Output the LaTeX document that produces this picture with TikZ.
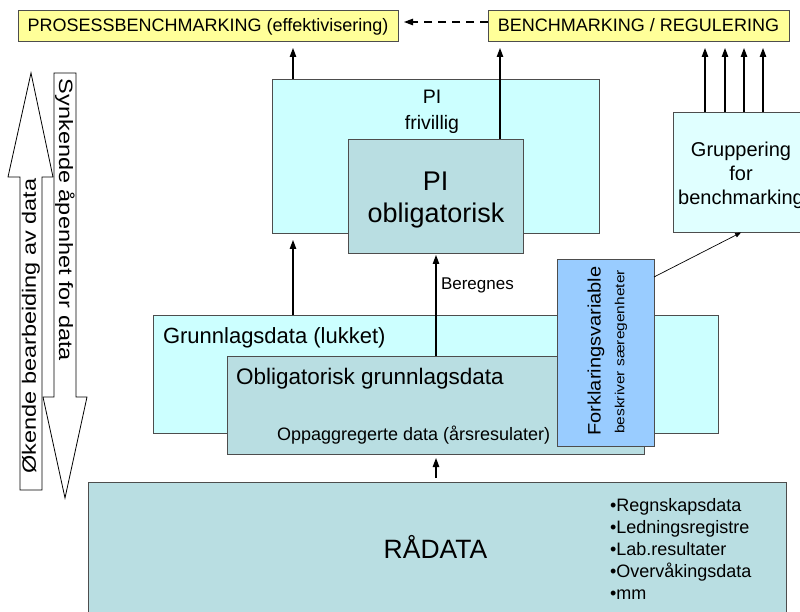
\documentclass[tikz,border=0pt]{standalone}
\usepackage{fontspec}
\setmainfont{Liberation Sans}
\usetikzlibrary{arrows.meta}
\definecolor{ylw}{HTML}{FFFF99}
\definecolor{cyanl}{HTML}{CCFFFF}
\definecolor{tealg}{HTML}{B9DEE2}
\definecolor{skyb}{HTML}{99CCFF}
\definecolor{palec}{HTML}{E0FFFF}
\definecolor{boxline}{HTML}{4D4D4D}
\newcommand\setfs[1]{\fontsize{#1}{#1}\selectfont}
\begin{document}
\begin{tikzpicture}[x=1pt,y=-1pt,
  box/.style={draw=boxline, line width=0.9pt, anchor=north west, inner sep=0pt, outer sep=0pt},
  txt/.style={inner sep=0pt, outer sep=0pt, anchor=base, text=black},
  ltxt/.style={txt, anchor=base west},
  vtxt/.style={inner sep=0pt, outer sep=0pt, anchor=center, text=black},
  arr/.style={line width=1.1pt, -{Triangle[length=9pt,width=6.5pt]}},
  thinarr/.style={line width=0.7pt, -{Triangle[length=6pt,width=4.5pt]}},
  bigarrow/.style={draw=black, line width=0.8pt, fill=white}]
\useasboundingbox (0,0) rectangle (800,612);
\clip (0,0) rectangle (800,612);
\fill[white] (0,0) rectangle (800,612);

% hollow arrows on the left
\draw[bigarrow] (20,490) -- (20,177) -- (8,177) -- (31,73) -- (53,177) -- (42,177) -- (42,490) -- cycle;
\draw[bigarrow] (54,73) -- (76,73) -- (76,397) -- (87,397) -- (65,498) -- (43,397) -- (54,397) -- cycle;
\node[vtxt, rotate=90] (okende) at (31,326) {\setfs{23.5}\scalebox{1}[0.82]{Økende bearbeiding av data}};
\node[vtxt, rotate=-90] (synkende) at (65,220) {\setfs{23.5}\scalebox{1}[0.82]{Synkende åpenhet for data}};

% target boxes
\node[box, fill=ylw, minimum width=380, minimum height=31] (proc) at (18,10) {};
\node[box, fill=ylw, minimum width=301, minimum height=31] (bench) at (488,10) {};
\node[txt] (proct) at (208,32) {\setfs{18}PROSESSBENCHMARKING (effektivisering)};
\node[txt] (bencht) at (638.5,32) {\setfs{18}BENCHMARKING / REGULERING};

% performance indicators
\node[box, fill=cyanl, minimum width=327, minimum height=154] (pifriv) at (272,79) {};
\node[txt] (pifa) at (432,104) {\setfs{19.5}PI};
\node[txt] (pifb) at (432,130) {\setfs{19.5}frivillig};
\node[box, fill=tealg, minimum width=175, minimum height=114] (piobl) at (348,139) {};
\node[txt] (pioa) at (435.5,191) {\setfs{27}PI};
\node[txt] (piob) at (436,223) {\setfs{27}obligatorisk};

% grouping
\node[box, fill=palec, minimum width=140, minimum height=120] (grupp) at (673,112) {};
\node[txt] (gra) at (741,157) {\setfs{20}Gruppering};
\node[txt] (grb) at (741,181) {\setfs{20}for};
\node[txt] (grc) at (741,205) {\setfs{20}benchmarking};

% base data
\node[box, fill=cyanl, minimum width=565, minimum height=118] (grunn) at (153,315) {};
\node[ltxt] (grunnt) at (163,343) {\setfs{22}Grunnlagsdata (lukket)};
\node[box, fill=tealg, minimum width=417, minimum height=98] (oblgr) at (227,356) {};
\node[ltxt] (oblgrt) at (236,384) {\setfs{22.5}Obligatorisk grunnlagsdata};
\node[ltxt] (oppt) at (277,440) {\setfs{18}Oppaggregerte data (årsresulater)};
\node[box, fill=skyb, minimum width=97, minimum height=187] (forkl) at (557,259) {};
\node[vtxt, rotate=90] (forkla) at (596,351) {\setfs{20}\scalebox{1}[0.9]{Forklaringsvariable}};
\node[vtxt, rotate=90] (forklb) at (621,352) {\setfs{15.5}\scalebox{1}[0.85]{beskriver særegenheter}};

% raw data
\node[box, fill=tealg, minimum width=698, minimum height=140] (raa) at (88,482) {};
\node[txt] (raat) at (435.5,558) {\setfs{26.5}RÅDATA};
\node[ltxt] (b1) at (610,511) {\setfs{18}•Regnskapsdata};
\node[ltxt] (b2) at (610,533) {\setfs{18}•Ledningsregistre};
\node[ltxt] (b3) at (610,555) {\setfs{18}•Lab.resultater};
\node[ltxt] (b4) at (610,577) {\setfs{18}•Overvåkingsdata};
\node[ltxt] (b5) at (610,599) {\setfs{18}•mm};

% x and y positions of the connectors
\coordinate (xa) at (293,0);
\coordinate (xb) at (500,0);
\coordinate (xc) at (436,0);
\coordinate (g1) at (705,0);
\coordinate (g2) at (725,0);
\coordinate (g3) at (744,0);
\coordinate (g4) at (763,0);
\coordinate (xg) at (742,0);
\coordinate (yd) at (0,22);
\coordinate (yf) at (0,277);

% connectors
\draw[arr, shorten >=7pt] (xa |- pifriv.north) -- (xa |- proc.south);
\draw[arr, shorten >=7pt] (xb |- piobl.north) -- (xb |- bench.south);
\foreach \g in {g1,g2,g3,g4}
  \draw[arr, shorten >=7pt] (\g |- grupp.north) -- (\g |- bench.south);
\draw[arr, dash pattern=on 8pt off 6pt, shorten >=6pt] (bench.west |- yd) -- (proc.east |- yd);
\draw[arr, shorten >=7pt] (xa |- grunn.north) -- (xa |- pifriv.south);
\draw[arr, shorten >=2pt] (xc |- oblgr.north) -- (xc |- piobl.south);
\node[ltxt] (beregn) at (441,290) {\setfs{17}Beregnes};
\draw[arr, shorten <=4pt, shorten >=4pt] (xc |- raa.north) -- (xc |- oblgr.south);
\draw[thinarr, shorten >=1pt] (forkl.east |- yf) -- (xg |- grupp.south);
\end{tikzpicture}
\end{document}
